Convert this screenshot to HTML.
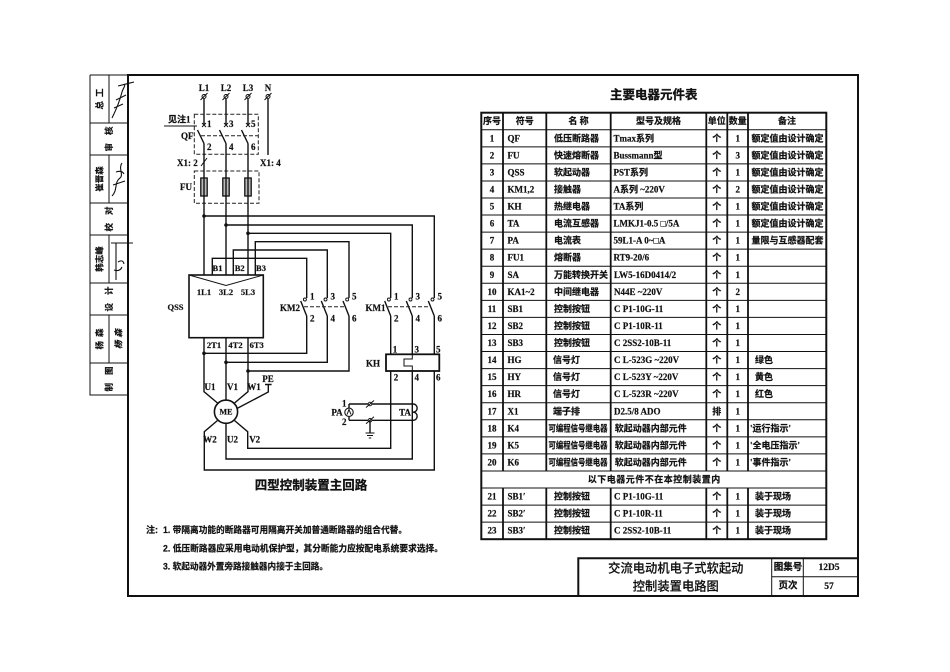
<!DOCTYPE html>
<html><head><meta charset="utf-8"><style>
html,body{margin:0;padding:0;background:#fff}
svg{display:block}
text{dominant-baseline:central;fill:#111}
.s{font-family:"Liberation Serif","Noto Sans CJK SC",serif;font-weight:700;font-size:9px;stroke:#111;stroke-width:0.2}
.k{font-family:"Liberation Sans","Noto Sans CJK SC",sans-serif;font-weight:700;font-size:9px;stroke:#111;stroke-width:0.2}
.m{text-anchor:middle}
.l{stroke:#111;stroke-width:1.4;fill:none}
.d{stroke:#222;stroke-width:1;fill:none;stroke-dasharray:4 2}
.th{stroke:#111;stroke-width:1;fill:none}
</style></head><body>
<svg width="950" height="672" viewBox="0 0 950 672" xmlns="http://www.w3.org/2000/svg">
<!-- frame -->
<rect x="128" y="75" width="730" height="521" fill="none" stroke="#111" stroke-width="2"/>
<!-- left strip -->
<g class="th">
<path d="M90,75 H128 M90,75 V395 H128 M90,123 H128 M90,155 H128 M90,203 H128 M90,235 H128 M90,283 H128 M90,315 H128 M90,363 H128"/>
<path d="M109,75 V123 M109,155 V203 M109,235 V283 M109,315 V363"/>
</g>
<g class="k" style="font-size:8.5px">
<text class="m" x="101.5" y="99" transform="rotate(-90 99.5 99)" style="letter-spacing:4px">总工</text>
<text class="m" x="113" y="139" transform="rotate(-90 109 139)" style="letter-spacing:8px">审核</text>
<text class="m" x="99.5" y="179" transform="rotate(-90 99.5 179)">崔晋森</text>
<text class="m" x="113" y="219" transform="rotate(-90 109 219)" style="letter-spacing:8px">校对</text>
<text class="m" x="99.5" y="259" transform="rotate(-90 99.5 259)">韩志峰</text>
<text class="m" x="113" y="299" transform="rotate(-90 109 299)" style="letter-spacing:8px">设计</text>
<text class="m" x="101.5" y="339" transform="rotate(-90 99.5 339)" style="letter-spacing:4px">杨森</text>
<text class="m" x="113" y="379" transform="rotate(-90 109 379)" style="letter-spacing:8px">制图</text>
<text class="m" x="120" y="339" transform="rotate(-90 118.5 339)" style="letter-spacing:3px;font-style:italic">杨森</text>
</g>
<g stroke="#111" stroke-width="1.1" fill="none">
<path d="M112,118 C116,110 120,100 122,92 C123,88 126,86 124,84 M114,108 L123,104 M116,100 L126,95 M118,86 L134,82"/>
<path d="M112,196 C118,190 114,182 120,178 C124,175 118,168 122,163 M113,185 L125,181 M116,172 q6,-2 8,2"/>
<path d="M111,243 H133 M116,243 V280 M118,262 q5,-3 6,2 M114,270 q6,2 8,-3"/>
</g>

<!-- ===== circuit ===== -->
<g class="s">
<text class="m" x="204" y="88">L1</text>
<text class="m" x="226" y="88">L2</text>
<text class="m" x="248" y="88">L3</text>
<text class="m" x="268" y="88">N</text>
</g>
<g stroke="#111" stroke-width="1" fill="#fff">
<circle cx="204" cy="96.5" r="2"/><circle cx="226" cy="96.5" r="2"/><circle cx="248" cy="96.5" r="2"/><circle cx="268" cy="96.5" r="2"/>
</g>
<path class="th" d="M200.5,100 L207.5,93 M222.5,100 L229.5,93 M244.5,100 L251.5,93 M264.5,100 L271.5,93"/>
<!-- QF -->
<path class="l" d="M204,99 V126 M226,99 V126 M248,99 V126 M268,99 V155"/>
<path class="th" d="M202,123 L206,127 M206,123 L202,127 M224,123 L228,127 M228,123 L224,127 M246,123 L250,127 M250,123 L246,127"/>
<path class="l" d="M197.5,130 L204,143.5 M219.5,130 L226,143.5 M241.5,130 L248,143.5"/>
<rect class="d" x="194.3" y="114.3" width="64" height="40"/>
<path class="d" d="M201,135.7 H258"/>
<g class="s">
<text x="207" y="124">1</text><text x="229" y="124">3</text><text x="251" y="124">5</text>
<text x="207" y="147">2</text><text x="229" y="147">4</text><text x="251" y="147">6</text>
<text x="168" y="119.5">见注1</text>
<text x="181" y="136">QF</text>
<text x="177" y="163">X1: 2</text>
<text x="260" y="163">X1: 4</text>
<text x="180" y="187">FU</text>
</g>
<path class="th" d="M164,126 H197"/>
<path class="th" d="M201,166 L207,158"/>
<!-- FU -->
<rect class="d" x="194.3" y="171" width="64.7" height="32.3"/>
<path class="l" d="M204,143.5 V275 M226,143.5 V275 M248,143.5 V275"/>
<g stroke="#111" stroke-width="1.3" fill="#bbb">
<rect x="200.8" y="178" width="6.4" height="18"/><rect x="222.8" y="178" width="6.4" height="18"/><rect x="244.8" y="178" width="6.4" height="18"/>
</g>
<path class="l" d="M204,178 V196 M226,178 V196 M248,178 V196"/>
<!-- buses -->
<path class="l" d="M204,216 H434.3 V298 M226,225 H412.3 V298 M248,233.3 H390.7 V298"/>
<path class="l" d="M255.3,275 V241.7 H349 V298 M233.3,275 V250 H327.3 V298 M212.3,275 V258.3 H306.7 V298"/>
<g fill="#111"><circle cx="204" cy="216" r="1.8"/><circle cx="226" cy="225" r="1.8"/><circle cx="248" cy="233.3" r="1.8"/>
<circle cx="204" cy="353.3" r="1.8"/><circle cx="226" cy="362.3" r="1.8"/><circle cx="248" cy="371" r="1.8"/></g>
<!-- QSS -->
<rect x="189" y="275" width="74.3" height="62.7" fill="none" stroke="#111" stroke-width="1.6"/>
<path class="th" d="M189,275 L226,285.5 L263.3,275"/>
<g class="s" style="font-size:8.5px">
<text class="m" x="217.5" y="268">B1</text><text class="m" x="239.7" y="268">B2</text><text class="m" x="261" y="268">B3</text>
<text class="m" x="204" y="292">1L1</text><text class="m" x="226" y="292">3L2</text><text class="m" x="248" y="292">5L3</text>
<text class="m" x="175.5" y="307">QSS</text>
<text class="m" x="214" y="345">2T1</text><text class="m" x="235.5" y="345">4T2</text><text class="m" x="256.7" y="345">6T3</text>
</g>
<!-- outputs -->
<path class="l" d="M204,337.7 V391.7 L217.5,403 M226,337.7 V400 M248,337.7 V391.7 L234.5,403"/>
<path class="l" d="M204,353.3 H306.7 V316 M226,362.3 H327.3 V316 M248,371 H349 V316"/>
<!-- KM contacts -->
<path class="l" d="M300.7,301 L306.7,316 M321.3,301 L327.3,316 M343,301 L349,316 M384.7,301 L390.7,316 M406.3,301 L412.3,316 M428.3,301 L434.3,316"/>
<g stroke="#111" stroke-width="0.9" fill="none">
<circle cx="304.9" cy="299.5" r="1.5"/><circle cx="325.5" cy="299.5" r="1.5"/><circle cx="347.2" cy="299.5" r="1.5"/>
<circle cx="388.9" cy="299.5" r="1.5"/><circle cx="410.5" cy="299.5" r="1.5"/><circle cx="432.5" cy="299.5" r="1.5"/>
</g>
<path class="d" d="M304,306.7 H346 M388,306.7 H431"/>
<g class="s">
<text x="310" y="296.5">1</text><text x="330.5" y="296.5">3</text><text x="352" y="296.5">5</text>
<text x="310" y="318.5">2</text><text x="330.5" y="318.5">4</text><text x="352" y="318.5">6</text>
<text x="394" y="296.5">1</text><text x="415.5" y="296.5">3</text><text x="437.5" y="296.5">5</text>
<text x="394" y="318.5">2</text><text x="415.5" y="318.5">4</text><text x="437.5" y="318.5">6</text>
<text class="m" x="290" y="308">KM2</text>
<text class="m" x="375.5" y="308">KM1</text>
<text class="m" x="395" y="349.5">1</text><text class="m" x="416.7" y="349.5">3</text><text class="m" x="438.3" y="349.5">5</text>
<text class="m" x="396" y="377.5">2</text><text class="m" x="416.7" y="377.5">4</text><text class="m" x="438.3" y="377.5">6</text>
<text class="m" x="373" y="363.5">KH</text>
</g>
<path class="l" d="M390.7,316 V354.3 M412.3,316 V354.3 M434.3,316 V354.3"/>
<rect x="386" y="354.3" width="53.3" height="16.7" fill="#fff" stroke="#111" stroke-width="1.8"/>
<path class="th" d="M412.3,355 V359 H404 V366 H412.3 V371"/>
<!-- returns -->
<path class="l" d="M390.7,371 V448.3 H247.7 V431.7 L234.5,420.5 M412.3,371 V459 H226 V423.3 M434.3,371 V470 H204.3 V431.7 L217.5,420.5"/>
<!-- motor -->
<circle cx="226" cy="411.7" r="11.6" fill="#fff" stroke="#111" stroke-width="1.6"/>
<text class="s m" x="226" y="412" style="font-size:8px">ME</text>
<path class="l" d="M268.3,384.5 V392 L237,408.5 M265,384.5 H271.6"/>
<g class="s">
<text class="m" x="268" y="379">PE</text>
<text class="m" x="210" y="387">U1</text><text class="m" x="232.5" y="387">V1</text><text class="m" x="254" y="387">W1</text>
<text class="m" x="210" y="439.5">W2</text><text class="m" x="232.5" y="439.5">U2</text><text class="m" x="254.7" y="439.5">V2</text>
</g>
<!-- PA / TA -->
<path class="l" d="M349,404 H413 M349,420.3 H413 M349,404 V420.3"/>
<path class="l" d="M413,404 C418.5,404 418.5,412.2 413,412.2 C418.5,412.2 418.5,420.3 413,420.3"/>
<circle cx="349" cy="412.3" r="4.2" fill="#fff" stroke="#111" stroke-width="1.1"/>
<path class="th" d="M347,414.5 L349,409.5 L351,414.5"/>
<g stroke="#111" stroke-width="0.9" fill="#fff"><circle cx="370" cy="404" r="1.8"/><circle cx="370" cy="420.3" r="1.8"/></g>
<path class="th" d="M366,407.5 L374,400.5 M366,423.8 L374,416.8"/>
<path class="l" d="M370,420.3 V433"/>
<path class="th" d="M365.5,433 H374.5 M367,435.5 H373 M368.8,438 H371.2"/>
<g class="s">
<text class="m" x="337" y="412.5">PA</text>
<text class="m" x="344.3" y="403.3">1</text>
<text class="m" x="344.3" y="421.8">2</text>
<text class="m" x="405" y="412.5">TA</text>
</g>
<text class="k m" x="311" y="485.5" style="font-size:12.5px;stroke-width:0.3">四型控制装置主回路</text>

<!-- notes -->
<g class="k">
<text x="146" y="530">注:</text>
<text x="163" y="530" textLength="244" lengthAdjust="spacingAndGlyphs">1. 带隔离功能的断路器可用隔离开关加普通断路器的组合代替。</text>
<text x="163" y="548.3" textLength="280" lengthAdjust="spacingAndGlyphs">2. 低压断路器应采用电动机保护型，其分断能力应按配电系统要求选择。</text>
<text x="163" y="566.7" textLength="165" lengthAdjust="spacingAndGlyphs">3. 软起动器外置旁路接触器内接于主回路。</text>
</g>

<!-- ===== table ===== -->
<text class="k m" x="653.8" y="95" style="font-size:12.5px;stroke-width:0.3">主要电器元件表</text>
<g stroke="#111" stroke-width="1" fill="none">
<path d="M481.3,129.76H826.3M481.3,146.82H826.3M481.3,163.88H826.3M481.3,180.94H826.3M481.3,198H826.3M481.3,215.06H826.3M481.3,232.12H826.3M481.3,249.18H826.3M481.3,266.24H826.3M481.3,283.3H826.3M481.3,300.36H826.3M481.3,317.42H826.3M481.3,334.48H826.3M481.3,351.54H826.3M481.3,368.6H826.3M481.3,385.66H826.3M481.3,402.72H826.3M481.3,419.78H826.3M481.3,436.84H826.3M481.3,453.9H826.3M481.3,470.96H826.3M481.3,488.02H826.3M481.3,505.08H826.3M481.3,522.14H826.3"/>
</g>
<g stroke="#111" stroke-width="1.8" fill="none">
<path d="M503,112.7V470.96M546.3,112.7V470.96M610.7,112.7V470.96M706.3,112.7V470.96M727.3,112.7V470.96M748,112.7V470.96"/>
<path d="M503,488.02V539.2M546.3,488.02V539.2M610.7,488.02V539.2M706.3,488.02V539.2M727.3,488.02V539.2M748,488.02V539.2"/>
</g>
<rect x="481.3" y="112.7" width="345" height="426.5" fill="none" stroke="#111" stroke-width="2"/>
<g class="s">
<!-- header -->
<text class="m" x="492" y="121.23">序号</text>
<text class="m" x="524.7" y="121.23">符号</text>
<text class="m" x="578.5" y="121.23">名 称</text>
<text class="m" x="658.5" y="121.23">型号及规格</text>
<text class="m" x="716.8" y="121.23">单位</text>
<text class="m" x="737.7" y="121.23">数量</text>
<text class="m" x="787" y="121.23">备注</text>
<!-- col 1 -->
<text class="m" x="492" y="138.29">1</text><text class="m" x="492" y="155.35">2</text><text class="m" x="492" y="172.41">3</text><text class="m" x="492" y="189.47">4</text><text class="m" x="492" y="206.53">5</text><text class="m" x="492" y="223.59">6</text><text class="m" x="492" y="240.65">7</text><text class="m" x="492" y="257.71">8</text><text class="m" x="492" y="274.77">9</text><text class="m" x="492" y="291.83">10</text><text class="m" x="492" y="308.89">11</text><text class="m" x="492" y="325.95">12</text><text class="m" x="492" y="343.01">13</text><text class="m" x="492" y="360.07">14</text><text class="m" x="492" y="377.13">15</text><text class="m" x="492" y="394.19">16</text><text class="m" x="492" y="411.25">17</text><text class="m" x="492" y="428.31">18</text><text class="m" x="492" y="445.37">19</text><text class="m" x="492" y="462.43">20</text><text class="m" x="492" y="496.55">21</text><text class="m" x="492" y="513.61">22</text><text class="m" x="492" y="530.67">23</text>
<!-- col 2 -->
<text x="507.5" y="138.29">QF</text><text x="507.5" y="155.35">FU</text><text x="507.5" y="172.41">QSS</text><text x="507.5" y="189.47">KM1,2</text><text x="507.5" y="206.53">KH</text><text x="507.5" y="223.59">TA</text><text x="507.5" y="240.65">PA</text><text x="507.5" y="257.71">FU1</text><text x="507.5" y="274.77">SA</text><text x="507.5" y="291.83">KA1~2</text><text x="507.5" y="308.89">SB1</text><text x="507.5" y="325.95">SB2</text><text x="507.5" y="343.01">SB3</text><text x="507.5" y="360.07">HG</text><text x="507.5" y="377.13">HY</text><text x="507.5" y="394.19">HR</text><text x="507.5" y="411.25">X1</text><text x="507.5" y="428.31">K4</text><text x="507.5" y="445.37">K5</text><text x="507.5" y="462.43">K6</text><text x="507.5" y="496.55">SB1′</text><text x="507.5" y="513.61">SB2′</text><text x="507.5" y="530.67">SB3′</text>
<!-- col 3 -->
<text x="554" y="138.29">低压断路器</text><text x="554" y="155.35">快速熔断器</text><text x="554" y="172.41">软起动器</text><text x="554" y="189.47">接触器</text><text x="554" y="206.53">热继电器</text><text x="554" y="223.59">电流互感器</text><text x="554" y="240.65">电流表</text><text x="554" y="257.71">熔断器</text><text x="554" y="274.77">万能转换开关</text><text x="554" y="291.83">中间继电器</text><text x="554" y="308.89">控制按钮</text><text x="554" y="325.95">控制按钮</text><text x="554" y="343.01">控制按钮</text><text x="553" y="360.07">信号灯</text><text x="553" y="377.13">信号灯</text><text x="553" y="394.19">信号灯</text><text x="553" y="411.25">端子排</text>
<text x="548.5" y="428.31" textLength="59" lengthAdjust="spacingAndGlyphs">可编程信号继电器</text><text x="548.5" y="445.37" textLength="59" lengthAdjust="spacingAndGlyphs">可编程信号继电器</text><text x="548.5" y="462.43" textLength="59" lengthAdjust="spacingAndGlyphs">可编程信号继电器</text>
<text x="554" y="496.55">控制按钮</text><text x="554" y="513.61">控制按钮</text><text x="554" y="530.67">控制按钮</text>
<!-- col 4 -->
<text x="613.5" y="138.29">Tmax系列</text><text x="613.5" y="155.35">Bussmann型</text><text x="613.5" y="172.41">PST系列</text><text x="613.5" y="189.47">A系列 ~220V</text><text x="613.5" y="206.53">TA系列</text><text x="613.5" y="223.59">LMKJ1-0.5 □/5A</text><text x="613.5" y="240.65">59L1-A 0~□A</text><text x="613.5" y="257.71">RT9-20/6</text><text x="614" y="274.77">LW5-16D0414/2</text><text x="614" y="291.83">N44E ~220V</text><text x="614" y="308.89">C P1-10G-11</text><text x="614" y="325.95">C P1-10R-11</text><text x="614" y="343.01">C 2SS2-10B-11</text><text x="614" y="360.07">C L-523G ~220V</text><text x="614" y="377.13">C L-523Y ~220V</text><text x="614" y="394.19">C L-523R ~220V</text><text x="614" y="411.25">D2.5/8 ADO</text><text x="614.7" y="428.31">软起动器内部元件</text><text x="614.7" y="445.37">软起动器内部元件</text><text x="614.7" y="462.43">软起动器内部元件</text><text x="614" y="496.55">C P1-10G-11</text><text x="614" y="513.61">C P1-10R-11</text><text x="614" y="530.67">C 2SS2-10B-11</text>
<!-- col 5 / 6 -->
<text class="m" x="716.8" y="138.29">个</text><text class="m" x="716.8" y="155.35">个</text><text class="m" x="716.8" y="172.41">个</text><text class="m" x="716.8" y="189.47">个</text><text class="m" x="716.8" y="206.53">个</text><text class="m" x="716.8" y="223.59">个</text><text class="m" x="716.8" y="240.65">个</text><text class="m" x="716.8" y="257.71">个</text><text class="m" x="716.8" y="274.77">个</text><text class="m" x="716.8" y="291.83">个</text><text class="m" x="716.8" y="308.89">个</text><text class="m" x="716.8" y="325.95">个</text><text class="m" x="716.8" y="343.01">个</text><text class="m" x="716.8" y="360.07">个</text><text class="m" x="716.8" y="377.13">个</text><text class="m" x="716.8" y="394.19">个</text><text class="m" x="716.8" y="411.25">排</text><text class="m" x="716.8" y="428.31">个</text><text class="m" x="716.8" y="445.37">个</text><text class="m" x="716.8" y="462.43">个</text><text class="m" x="716.8" y="496.55">个</text><text class="m" x="716.8" y="513.61">个</text><text class="m" x="716.8" y="530.67">个</text>
<text class="m" x="737.7" y="138.29">1</text><text class="m" x="737.7" y="155.35">3</text><text class="m" x="737.7" y="172.41">1</text><text class="m" x="737.7" y="189.47">2</text><text class="m" x="737.7" y="206.53">1</text><text class="m" x="737.7" y="223.59">1</text><text class="m" x="737.7" y="240.65">1</text><text class="m" x="737.7" y="257.71">1</text><text class="m" x="737.7" y="274.77">1</text><text class="m" x="737.7" y="291.83">2</text><text class="m" x="737.7" y="308.89">1</text><text class="m" x="737.7" y="325.95">1</text><text class="m" x="737.7" y="343.01">1</text><text class="m" x="737.7" y="360.07">1</text><text class="m" x="737.7" y="377.13">1</text><text class="m" x="737.7" y="394.19">1</text><text class="m" x="737.7" y="411.25">1</text><text class="m" x="737.7" y="428.31">1</text><text class="m" x="737.7" y="445.37">1</text><text class="m" x="737.7" y="462.43">1</text><text class="m" x="737.7" y="496.55">1</text><text class="m" x="737.7" y="513.61">1</text><text class="m" x="737.7" y="530.67">1</text>
<!-- col 7 -->
<text x="751.5" y="138.29">额定值由设计确定</text><text x="751.5" y="155.35">额定值由设计确定</text><text x="751.5" y="172.41">额定值由设计确定</text><text x="751.5" y="189.47">额定值由设计确定</text><text x="751.5" y="206.53">额定值由设计确定</text><text x="751.5" y="223.59">额定值由设计确定</text><text x="751.5" y="240.65">量限与互感器配套</text>
<text x="755" y="360.07">绿色</text><text x="755" y="377.13">黄色</text><text x="755" y="394.19">红色</text>
<text x="750" y="428.31">'运行指示'</text><text x="750" y="445.37">'全电压指示'</text><text x="750" y="462.43">'事件指示'</text>
<text x="755" y="496.55">装于现场</text><text x="755" y="513.61">装于现场</text><text x="755" y="530.67">装于现场</text>
<text class="m" x="654.3" y="479.49" style="letter-spacing:0.5px">以下电器元件不在本控制装置内</text>
</g>

<!-- title block -->
<path d="M578.3,596 V558.3 H858" fill="none" stroke="#111" stroke-width="2"/>
<path class="th" d="M771.7,558.3 V596 M803.3,558.3 V596 M771.7,576.7 H858"/>
<g class="k" style="font-weight:500;stroke-width:0.15">
<text class="m" x="675.8" y="568.3" style="font-size:12.3px">交流电动机电子式软起动</text>
<text class="m" x="675.8" y="586.7" style="font-size:12.3px">控制装置电路图</text>
</g>
<g class="s" style="font-size:9.5px">
<text class="m" x="788" y="568">图集号</text>
<text class="m" x="788" y="586.7">页次</text>
<text class="m" x="829" y="568">12D5</text>
<text class="m" x="829" y="587">57</text>
</g>
</svg>
</body></html>
